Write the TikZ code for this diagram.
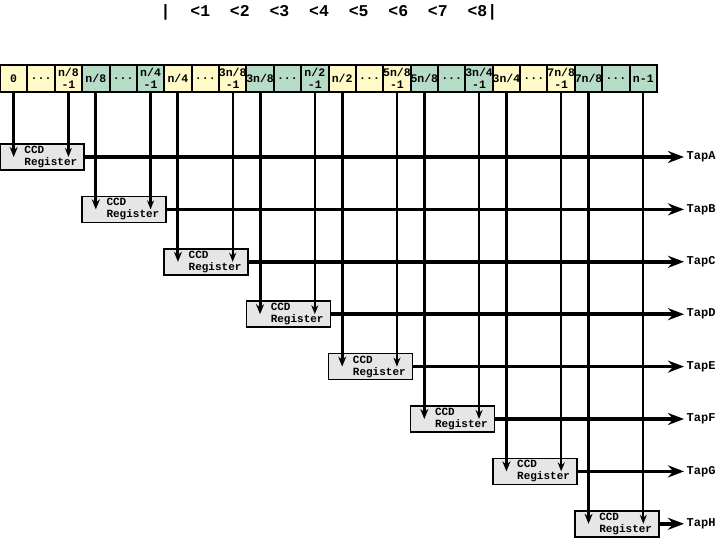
\documentclass[tikz,border=0pt]{standalone}
\usepackage{fontspec}
\setmonofont{Liberation Mono}
\usetikzlibrary{arrows.meta,positioning}
\definecolor{celly}{RGB}{255,250,200}
\definecolor{cellg}{RGB}{182,220,200}
\definecolor{regfill}{RGB}{230,230,230}
\newcommand\skipdots{...}
\tikzset{
  cell/.style={draw,line width=2pt,minimum width=27.375pt,minimum height=27pt,inner sep=0pt,align=center,
    font=\ttfamily\bfseries\fontsize{11.5}{11.5}\selectfont},
  reg/.style={draw,line width=1.6pt,fill=regfill,minimum width=84pt,minimum height=26pt,inner sep=0pt},
  regtext/.style={inner sep=0pt,align=left,font=\ttfamily\bfseries\fontsize{11}{12}\selectfont},
  tap/.style={anchor=west,inner sep=2.5pt,font=\ttfamily\bfseries\fontsize{12}{12}\selectfont},
  feed/.style={-{Stealth[length=10pt,width=8pt]},line width=3pt},
  feedthin/.style={-{Stealth[length=9pt,width=7pt]},line width=2.2pt},
  tapline/.style={-{Stealth[length=16pt,width=12pt]},line width=3.5pt},
}
\begin{document}
\begin{tikzpicture}[x=1pt,y=-1pt,line cap=butt,>=Stealth]
\useasboundingbox (0,0) rectangle (720,540);
\node[font=\ttfamily\bfseries\fontsize{16.5}{18}\selectfont] (ruler) at (329,12)
  {|~~<1~~<2~~<3~~<4~~<5~~<6~~<7~~<8|};
% cells of the input row
\foreach \txt [count=\i from 0] in {0,\skipdots,{n/8\\-1},n/8,\skipdots,{n/4\\-1},n/4,\skipdots,{3n/8\\-1},
    3n/8,\skipdots,{n/2\\-1},n/2,\skipdots,{5n/8\\-1},5n/8,\skipdots,{3n/4\\-1},
    3n/4,\skipdots,{7n/8\\-1},7n/8,\skipdots,n-1}{
  \pgfmathtruncatemacro\g{mod(floor(\i/3),2)}
  \ifnum\g=0 \def\col{celly}\else\def\col{cellg}\fi
  \node[cell,fill=\col] (c\i) at ({27.375*(\i+0.5)},78.5) {\txt};
}
% registers and taps
\foreach \k/\t in {0/A,1/B,2/C,3/D,4/E,5/F,6/G,7/H}{
  \node[reg] (r\k) at ({82.125*\k+42},{157+52.4*\k}) {};
  \node[regtext,right=25pt of r\k.west] (l\k) {CCD\\Register};
  \node[tap] (t\k) at (684,{157+52.4*\k}) {Tap\t};
}
\foreach \k in {0,...,7}{
  \pgfmathtruncatemacro\a{3*\k}
  \pgfmathtruncatemacro\b{3*\k+2}
  \draw[feed] (c\a.south) -- (c\a.south |- r\k.center);
  \draw[feedthin] (c\b.south) -- (c\b.south |- r\k.center);
  \draw[tapline] (r\k.east) -- (t\k.west);
}
\end{tikzpicture}
\end{document}
